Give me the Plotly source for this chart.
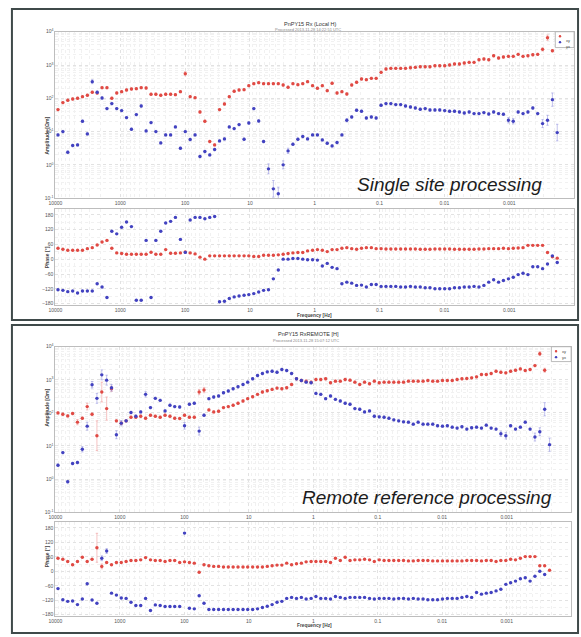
import plotly.graph_objects as go

# ---------------------------------------------------------------- data
# Sounding frequencies [Hz] shared by both processing runs
freq_hz = [9120, 7665, 6442, 5414, 4550, 3824, 3214, 2701, 2270, 1908,
           1603, 1348, 1132, 952, 800, 672, 565, 475, 399, 335,
           282, 237, 199, 167, 141, 118, 99.3, 83.5, 70.1, 58.9,
           49.5, 41.6, 35.0, 29.4, 24.7, 20.8, 17.5, 14.7, 12.3, 10.4,
           8.71, 7.32, 6.15, 5.17, 4.35, 3.65, 3.07, 2.58, 2.17, 1.82,
           1.53, 1.29, 1.08, 0.909, 0.764, 0.642, 0.540, 0.453, 0.381, 0.320,
           0.269, 0.226, 0.190, 0.160, 0.134, 0.113, 0.0948, 0.0797, 0.0670, 0.0563,
           0.0473, 0.0398, 0.0334, 0.0281, 0.0236, 0.0198, 0.0167, 0.0140, 0.0118, 0.00990,
           0.00832, 0.00699, 0.00587, 0.00494, 0.00415, 0.00349, 0.00293, 0.00246, 0.00207, 0.00174,
           0.00146, 0.00123, 0.00103, 0.000868, 0.000729, 0.000613, 0.000515, 0.000433, 0.000364, 0.000306,
           0.000257, 0.000216, 0.000182]

# Single site (local H) processing: log10 of apparent amplitude [Ohm m]
log_amp_xy_local = [1.66, 1.87, 1.94, 1.98, 2.00, 2.05, 2.09, 2.18, 2.16, 2.32,
                    2.32, 2.00, 2.16, 2.20, 2.25, 2.28, 2.29, 2.32, 2.31, 2.12,
                    2.12, 2.09, 2.12, 2.12, 2.11, 2.20, 2.74, 2.05, 2.02, 1.59,
                    1.31, 0.70, 0.60, 1.66, 1.83, 2.05, 2.21, 2.25, 2.26, 2.38,
                    2.44, 2.47, 2.44, 2.44, 2.44, 2.44, 2.40, 2.33, 2.44, 2.41,
                    2.44, 2.50, 2.38, 2.30, 2.38, 2.23, 2.45, 2.16, 2.20, 2.13,
                    2.40, 2.48, 2.58, 2.56, 2.60, 2.60, 2.78, 2.88, 2.90, 2.90,
                    2.90, 2.90, 2.92, 2.93, 2.95, 2.95, 2.95, 2.98, 2.98, 2.98,
                    3.00, 3.03, 3.03, 3.06, 3.08, 3.08, 3.16, 3.18, 3.16, 3.28,
                    3.21, 3.24, 3.26, 3.26, 3.32, 3.26, 3.28, 3.31, 3.32, 3.47,
                    3.82, 3.43, None]
log_amp_yx_local = [0.90, 1.00, 0.38, 0.58, 0.60, 1.31, 0.93, 2.50, 2.18, 2.01,
                    1.69, 1.84, 1.69, 1.63, 1.42, 1.07, 1.51, 1.77, 1.02, 1.27,
                    1.00, 0.66, 0.90, 0.90, 1.14, 0.50, 1.00, 0.76, 0.90, 0.25,
                    0.40, 0.30, 0.46, 0.72, 0.78, 1.14, 1.09, 1.21, 0.77, 1.26,
                    1.69, 1.32, 0.70, -0.12, -0.72, -0.87, 0.00, 0.42, 0.62, 0.77,
                    0.85, 0.78, 0.90, 0.90, 0.75, 0.65, 0.57, 0.67, 0.90, 1.34,
                    1.44, 1.64, 1.61, 1.41, 1.44, 1.41, 1.79, 1.84, 1.84, 1.81,
                    1.81, 1.77, 1.74, 1.71, 1.67, 1.69, 1.65, 1.65, 1.65, 1.63,
                    1.61, 1.61, 1.59, 1.56, 1.59, 1.54, 1.54, 1.57, 1.53, 1.59,
                    1.54, 1.52, 1.34, 1.31, 1.59, 1.54, 1.59, 1.71, 1.54, 1.24,
                    1.34, 1.96, 0.97]
phase_xy_local = [44.7, 40.7, 36.7, 36.7, 36.7, 36.7, 43.3, 47.3, 58, 70,
                  76.7, 44.7, 26, 23.3, 20.7, 20.7, 20.7, 20.7, 20.7, 28.7,
                  20.7, 20.7, 39.3, 24.7, 24.7, 26, 30, 26, 22, 8.7,
                  0.7, 14, 14, 14, 14, 14, 14, 14, 14, 14,
                  11.3, 11.3, 16.7, 16.7, 16.7, 18, 20.7, 23.3, 26, 27.3,
                  27.3, 34, 36.7, 39.3, 36.7, 31.3, 39.3, 39.3, 44.7, 47.3,
                  43.3, 40.7, 44.7, 47.3, 47.3, 43.3, 43.3, 42, 42, 42,
                  42, 42, 42, 42, 40.7, 40.7, 40.7, 42, 42, 42,
                  42, 40.7, 40.7, 40.7, 40.7, 40.7, 42, 42, 43.3, 43.3,
                  43.3, 44.7, 43.3, 44.7, 46, 47.3, 56.7, 56.7, 56.7, 56.7,
                  27.3, 10, 4.7]
phase_yx_local = [-123.3, -126, -131.3, -128.7, -136.7, -128.7, -128.7, -128.7, -99.3, -112.7,
                  -155.3, 114, 103.3, 130, 151.3, 132.7, -166, -166, 76.7, -155.3,
                  76.7, 114, 147.3, 154, 170, 80.7, 28, 159.3, 170, 170,
                  164.7, 170, 174, -172, -170, -159.3, -152.7, -148.7, -146, -143.3,
                  -139.3, -132.7, -126, -123.3, -79.3, -43.3, 0.7, 0.7, 3.3, 3.3,
                  0.7, -2, -2, -3.3, -27.3, -16.7, -32.7, -38, -99.3, -92.7,
                  -96.7, -106, -104.7, -112.7, -102, -102, -110, -110, -110, -110,
                  -112.7, -112.7, -110, -112.7, -112.7, -115.3, -115.3, -119.3, -119.3, -119.3,
                  -119.3, -115.3, -115.3, -112.7, -112.7, -110, -112.7, -106, -92.7, -83.3,
                  -92.7, -86, -79.3, -72.7, -62, -56.7, -62, -30, -30, -38,
                  -19.3, 14, -12.7]

# Remote reference processing
log_amp_xy_remote = [2.00, 1.96, 1.91, 1.98, 1.72, 1.84, 2.19, 1.96, 1.31, 2.63,
                     2.13, 2.73, 1.76, 1.69, 1.76, 1.87, 1.87, 1.90, 1.84, 1.93,
                     1.90, 1.87, 1.93, 1.90, 1.84, 1.83, 1.93, 1.87, 1.87, 2.63,
                     2.69, 2.09, 2.03, 2.05, 2.16, 2.19, 2.23, 2.29, 2.36, 2.43,
                     2.49, 2.56, 2.63, 2.67, 2.71, 2.75, 2.73, 2.76, 2.86, 3.03,
                     2.98, 2.96, 2.93, 3.01, 3.01, 3.03, 2.91, 2.96, 2.96, 3.01,
                     2.99, 2.93, 2.86, 2.93, 2.88, 2.96, 2.91, 2.93, 2.93, 2.93,
                     2.93, 2.93, 2.96, 2.96, 2.96, 2.96, 2.98, 2.96, 2.96, 2.98,
                     2.98, 2.98, 3.01, 3.03, 3.04, 3.06, 3.09, 3.16, 3.16, 3.19,
                     3.26, 3.23, 3.21, 3.26, 3.29, 3.33, 3.28, 3.31, 3.43, 3.79,
                     3.29, None, None]
log_amp_yx_remote = [0.42, 0.80, -0.08, 0.47, 0.50, 0.90, 1.60, 2.85, 2.44, 3.15,
                     2.99, 2.76, 1.34, 1.69, 1.76, 2.01, 1.90, 2.03, 2.56, 2.16,
                     2.44, 2.38, 2.06, 2.23, 2.19, 2.18, 1.61, 2.26, 2.29, 1.45,
                     1.93, 2.43, 2.48, 2.51, 2.61, 2.66, 2.73, 2.79, 2.86, 2.93,
                     3.03, 3.13, 3.19, 3.24, 3.26, 3.23, 3.31, 3.28, 3.19, 3.03,
                     2.98, 2.93, 2.91, 2.59, 2.56, 2.43, 2.51, 2.41, 2.36, 2.29,
                     2.26, 2.13, 2.11, 2.03, 2.06, 1.90, 1.88, 1.87, 1.84, 1.79,
                     1.76, 1.73, 1.72, 1.66, 1.72, 1.66, 1.66, 1.66, 1.61, 1.60,
                     1.61, 1.57, 1.54, 1.58, 1.51, 1.55, 1.57, 1.54, 1.63, 1.54,
                     1.51, 1.37, 1.31, 1.61, 1.51, 1.57, 1.72, 1.51, 1.27, 1.43,
                     2.11, 1.04, None]
phase_xy_remote = [54, 50, 40.6, 27, 40.6, 58, 40.6, 50, 97.4, 20.3,
                   36.5, 27, 36.5, 36.5, 40.6, 44.7, 44.7, 47.4, 56.8, 47.4,
                   44.7, 44.7, 40.6, 44.7, 44.7, 36.5, 39.2, 36.5, 33.8, -4,
                   27, 23, 20.3, 20.3, 17.6, 17.6, 17.6, 17.6, 17.6, 17.6,
                   17.6, 17.6, 17.6, 20.3, 23, 25.7, 25.7, 33.8, 27, 31.1,
                   33.8, 39.2, 40.6, 40.6, 40.6, 40.6, 36.5, 54, 44.7, 58,
                   44.7, 47.4, 47.4, 50, 47.4, 40.6, 47.4, 44.7, 44.7, 44.7,
                   44.7, 44.7, 43, 43, 44.7, 44.7, 44.7, 43, 43, 43,
                   43, 43, 43, 43, 44.7, 44.7, 44.7, 43, 44.7, 44.7,
                   40.6, 44.7, 44.7, 50, 47.4, 54, 60.9, 60.9, 60.9, 23,
                   23, 4, None]
phase_yx_remote = [-71.7, -117.7, -124.5, -123.2, -138, -115, -51.4, -119, -132.6, 54,
                   83.9, -90.7, -98.8, -111, -112.3, -128.6, -142, -142, -112.3, -162.4,
                   -139.4, -142, -146.2, -146.2, -146.2, -146.2, 158.3, -153, -155.6, -101.5,
                   -132.6, -158.3, -158.3, -158.3, -158.3, -158.3, -158.3, -158.3, -158.3, -158.3,
                   -158.3, -155.6, -150.2, -144.8, -138, -128.6, -124.5, -112.3, -108.3, -112.3,
                   -108.3, -115, -112.3, -104.2, -112.3, -112.3, -115, -104.2, -108.3, -112.3,
                   -108.3, -108.3, -108.3, -108.3, -112.3, -115, -112.3, -112.3, -112.3, -115,
                   -112.3, -112.3, -115, -112.3, -115, -115, -117.7, -117.7, -117.7, -115,
                   -112.3, -112.3, -112.3, -108.3, -104.2, -108.3, -88, -94.7, -90.7, -88,
                   -81.2, -74.4, -54.1, -47.4, -40.6, -31.1, -27, -40.6, -20.3, 0,
                   -13.5, None, None]

# Error estimates: amplitude in decades, phase in degrees (index -> error),
# every other sample uses the default value
AMP_ERR_DEFAULT = 0.035
PHASE_ERR_DEFAULT = 2.0
amp_err_xy_local = {26: 0.06, 99: 0.05, 100: 0.08}
amp_err_yx_local = {7: 0.06, 43: 0.15, 44: 0.25, 45: 0.2, 46: 0.12, 47: 0.08, 59: 0.05,
                    92: 0.08, 93: 0.08, 99: 0.12, 100: 0.15, 101: 0.2, 102: 0.25}
amp_err_xy_remote = {4: 0.08, 6: 0.1, 8: 0.45, 9: 0.3, 10: 0.35, 11: 0.08, 29: 0.08,
                     30: 0.08, 99: 0.06, 100: 0.06}
amp_err_yx_remote = {5: 0.08, 6: 0.12, 7: 0.1, 8: 0.15, 9: 0.15, 10: 0.15, 11: 0.1,
                     12: 0.12, 13: 0.08, 18: 0.08, 26: 0.1, 29: 0.12, 91: 0.08, 92: 0.1,
                     98: 0.12, 99: 0.12, 100: 0.2, 101: 0.2}
phase_err_xy_remote = {8: 60, 9: 10}
phase_err_yx_remote = {9: 10, 10: 10}

x_tick_vals = [10000, 1000, 100, 10, 1, 0.1, 0.01, 0.001]
x_tick_text = ["10000", "1000", "100", "10", "1", "0.1", "0.01", "0.001"]
amp_tick_vals = [0.1, 1, 10, 100, 1000, 10000]
amp_tick_text = ["10<sup>-1</sup>", "10<sup>0</sup>", "10<sup>1</sup>",
                 "10<sup>2</sup>", "10<sup>3</sup>", "10<sup>4</sup>"]
phase_tick_vals = [-180, -120, -60, 0, 60, 120, 180]

# ---------------------------------------------------------------- style
W, H = 581, 637
FONT = "Liberation Sans, Arial, sans-serif"
RED, BLUE = "#e04a44", "#4242c0"
RED_ERR, BLUE_ERR = "rgba(236,140,140,0.75)", "rgba(140,140,220,0.75)"
GRID, MINOR = "#e2e2e2", "#f1f1f1"
FRAME = "#bdbdbd"
BOX = "#3f4a4a"


def yp(px):
    return 1 - px / H


def xp(px):
    return px / W


minor_x = [m * 10.0 ** k for k in range(-4, 4) for m in range(2, 10)]
minor_amp = [m * 10.0 ** k for k in range(-1, 4) for m in range(2, 10)]


def amp_trace(logv, err, color, ecolor, xa, ya, name):
    y, plus, minus = [], [], []
    for i, v in enumerate(logv):
        if v is None:
            y.append(None); plus.append(0); minus.append(0)
            continue
        e = err.get(i, AMP_ERR_DEFAULT)
        y.append(10 ** v)
        plus.append(10 ** (v + e) - 10 ** v)
        minus.append(10 ** v - 10 ** (v - e))
    return go.Scatter(
        x=freq_hz, y=y, mode="markers", name=name, xaxis=xa, yaxis=ya,
        marker=dict(color=color, size=3.4, symbol="circle"),
        error_y=dict(type="data", symmetric=False, array=plus, arrayminus=minus,
                     color=ecolor, thickness=0.7, width=1.2),
        showlegend=False)


def phase_trace(vals, err, color, ecolor, xa, ya, name):
    e = [err.get(i, PHASE_ERR_DEFAULT) for i in range(len(vals))]
    return go.Scatter(
        x=freq_hz, y=vals, mode="markers", name=name, xaxis=xa, yaxis=ya,
        marker=dict(color=color, size=3.4, symbol="circle"),
        error_y=dict(type="data", array=e, color=ecolor, thickness=0.7, width=1.2),
        showlegend=False)


fig = go.Figure()
# single site
fig.add_trace(amp_trace(log_amp_xy_local, amp_err_xy_local, RED, RED_ERR, "x", "y", "xy"))
fig.add_trace(amp_trace(log_amp_yx_local, amp_err_yx_local, BLUE, BLUE_ERR, "x", "y", "yx"))
fig.add_trace(phase_trace(phase_xy_local, {}, RED, RED_ERR, "x2", "y2", "xy"))
fig.add_trace(phase_trace(phase_yx_local, {}, BLUE, BLUE_ERR, "x2", "y2", "yx"))
# remote reference
fig.add_trace(amp_trace(log_amp_xy_remote, amp_err_xy_remote, RED, RED_ERR, "x3", "y3", "xy"))
fig.add_trace(amp_trace(log_amp_yx_remote, amp_err_yx_remote, BLUE, BLUE_ERR, "x3", "y3", "yx"))
fig.add_trace(phase_trace(phase_xy_remote, phase_err_xy_remote, RED, RED_ERR, "x4", "y4", "xy"))
fig.add_trace(phase_trace(phase_yx_remote, phase_err_yx_remote, BLUE, BLUE_ERR, "x4", "y4", "yx"))

tick_font = dict(family=FONT, size=5, color="#555")


def x_axis(x0, x1, anchor):
    return dict(type="log", range=[4, -4], domain=[xp(x0), xp(x1)], anchor=anchor,
                tickmode="array", tickvals=x_tick_vals, ticktext=x_tick_text,
                tickfont=tick_font, ticks="", showline=True, mirror=True,
                linecolor=FRAME, linewidth=1, showgrid=True, gridcolor=GRID,
                griddash="dot", gridwidth=0.7, zeroline=False, fixedrange=True,
                minor=dict(tickvals=minor_x, showgrid=True, gridcolor=MINOR,
                           griddash="dot", gridwidth=0.6, ticks=""))


def amp_axis(y_top, y_bot, anchor):
    return dict(type="log", range=[-1, 4], domain=[yp(y_bot), yp(y_top)], anchor=anchor,
                tickmode="array", tickvals=amp_tick_vals, ticktext=amp_tick_text,
                tickfont=tick_font, ticks="", showline=True, mirror=True,
                linecolor=FRAME, linewidth=1, showgrid=True, gridcolor=GRID,
                griddash="dot", gridwidth=0.7, zeroline=False, fixedrange=True,
                minor=dict(tickvals=minor_amp, showgrid=True, gridcolor=MINOR,
                           griddash="dot", gridwidth=0.6, ticks=""))


def phase_axis(y_top, y_bot, anchor):
    return dict(range=[-186, 204], domain=[yp(y_bot), yp(y_top)], anchor=anchor,
                tickmode="array", tickvals=phase_tick_vals,
                tickfont=tick_font, ticks="", showline=True, mirror=True,
                linecolor=FRAME, linewidth=1, showgrid=True, gridcolor=GRID,
                griddash="dot", gridwidth=0.7, zeroline=False, fixedrange=True,
                minor=dict(tickvals=[-150, -90, -30, 30, 90, 150], showgrid=True,
                           gridcolor=MINOR, griddash="dot", gridwidth=0.6, ticks=""))


layout = dict(
    width=W, height=H, margin=dict(l=0, r=0, t=0, b=0),
    paper_bgcolor="white", plot_bgcolor="white", showlegend=False,
    font=dict(family=FONT),
    xaxis=x_axis(49, 574, "y"), yaxis=amp_axis(29, 197, "x"),
    xaxis2=x_axis(49, 574, "y2"), yaxis2=phase_axis(208, 305, "x2"),
    xaxis3=x_axis(49, 571, "y3"), yaxis3=amp_axis(347, 514, "x3"),
    xaxis4=x_axis(49, 571, "y4"), yaxis4=phase_axis(524, 619, "x4"),
)
fig.update_layout(**layout)

# panel frames
shapes = []
for top, bot in [(6, 320), (325, 636)]:
    shapes.append(dict(type="rect", xref="paper", yref="paper",
                       x0=xp(5), x1=xp(578), y0=yp(bot), y1=yp(top),
                       line=dict(color=BOX, width=2)))

annotations = []


def note(text, x, y, size, color="#333", **kw):
    annotations.append(dict(text=text, x=xp(x), y=yp(y), xref="paper", yref="paper",
                            showarrow=False, font=dict(family=FONT, size=size, color=color),
                            **kw))


# titles and subtitles
note("PnPY15 Rx (Local H)", 307, 16, 5.5, "#333")
note("Processed 2013-11-28 14:22:51 UTC", 305, 22.5, 4, "#888")
note("PnPY15 RxREMOTE [H]", 305, 334, 5.5, "#333")
note("Processed 2013-11-28 15:07:12 UTC", 303, 340.5, 4, "#888")

# axis titles
for yc in (113, 430):
    note("<b>Amplitude [Ωm]</b>", 35, yc, 5, "#444", textangle=-90)
for yc in (257, 572):
    note("<b>Phase [°]</b>", 35, yc, 5, "#444", textangle=-90)
note("<b>Frequency [Hz]</b>", 311, 315.5, 4.8, "#444")
note("<b>Frequency [Hz]</b>", 311, 632.5, 4.8, "#444")

# processing labels, kept clear of the frequency tick labels below them
annotations.append(dict(text="Single site processing", x=xp(543), y=yp(195),
                        xref="paper", yref="paper", showarrow=False,
                        xanchor="right", yanchor="bottom", borderpad=0,
                        font=dict(family=FONT, size=19, color="#1c1c1c", style="italic")))
annotations.append(dict(text="Remote reference processing", x=xp(553), y=yp(511),
                        xref="paper", yref="paper", showarrow=False,
                        xanchor="right", yanchor="bottom", borderpad=0,
                        font=dict(family=FONT, size=19, color="#1c1c1c", style="italic")))

# compact legends in the top-right corner of each amplitude plot
for (bx0, bx1, by0, by1) in [(555, 574, 29, 45), (551, 571, 347, 362)]:
    shapes.append(dict(type="rect", xref="paper", yref="paper",
                       x0=xp(bx0), x1=xp(bx1), y0=yp(by1), y1=yp(by0),
                       line=dict(color="#aaaaaa", width=0.8), fillcolor="white"))
    rows = [(by0 + 4.5, RED, "xy"), (by0 + 10.5, BLUE, "yx")]
    for ry, col, lab in rows:
        shapes.append(dict(type="circle", xref="paper", yref="paper",
                           x0=xp(bx0 + 3.5), x1=xp(bx0 + 6), y0=yp(ry + 1.25), y1=yp(ry - 1.25),
                           line=dict(width=0), fillcolor=col))
        annotations.append(dict(text=lab, x=xp(bx0 + 9), y=yp(ry), xref="paper", yref="paper",
                                showarrow=False, xanchor="left",
                                font=dict(family=FONT, size=4, color="#444")))

fig.update_layout(shapes=shapes, annotations=annotations)
fig.write_html("out.html")
